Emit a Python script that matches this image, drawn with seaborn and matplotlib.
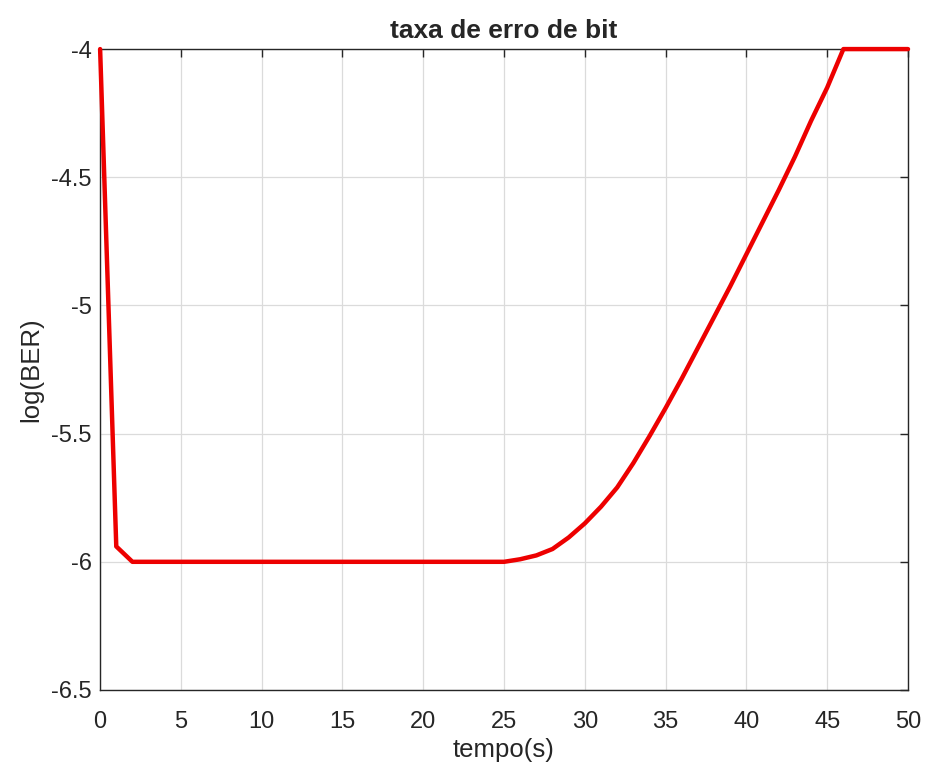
import numpy as np
import pandas as pd
import matplotlib
matplotlib.use("Agg")
import matplotlib.pyplot as plt
import seaborn as sns

# data
tempo = list(range(0, 51))
log_ber = ([-4.00, -5.94] + [-6.00] * 24 +
           [-5.99, -5.975, -5.95, -5.905, -5.85, -5.785, -5.71, -5.615, -5.51, -5.40,
            -5.285, -5.165, -5.045, -4.925, -4.80, -4.675, -4.55, -4.42, -4.28, -4.15,
            -4.00, -4.00, -4.00, -4.00, -4.00])
x_ticks = [0, 5, 10, 15, 20, 25, 30, 35, 40, 45, 50]
y_ticks = [-6.5, -6, -5.5, -5, -4.5, -4]
y_tick_labels = ["-6.5", "-6", "-5.5", "-5", "-4.5", "-4"]

df = pd.DataFrame({"tempo": tempo, "log_ber": log_ber})

sns.set_style("white")
plt.rcParams['font.family'] = ['Liberation Sans', 'DejaVu Sans']

text_col = (0.15, 0.15, 0.15)

fig = plt.figure(figsize=(9.27, 7.67), dpi=100)
ax = fig.add_axes([0.108, 0.1004, 0.8715, 0.8356])

sns.lineplot(data=df, x="tempo", y="log_ber", color=(0.93, 0.0, 0.0),
             linewidth=3.2, ax=ax, clip_on=False, zorder=5)

ax.set_xlim(0, 50)
ax.set_ylim(-6.5, -4)
ax.set_xticks(x_ticks)
ax.set_yticks(y_ticks)
ax.set_yticklabels(y_tick_labels)
ax.grid(True, color=(0.86, 0.86, 0.86), linewidth=0.9)
ax.set_axisbelow(True)

for side in ["top", "right", "bottom", "left"]:
    ax.spines[side].set_visible(True)
    ax.spines[side].set_color(text_col)
    ax.spines[side].set_linewidth(1.0)

ax.tick_params(axis='both', direction='in', length=6, width=1.0,
               top=True, right=True, labelsize=17, colors=text_col)
ax.tick_params(axis='x', pad=15)
ax.tick_params(axis='y', pad=6)

ax.set_xlabel("tempo(s)", fontsize=18.5, color=text_col, labelpad=4)
ax.set_ylabel("log(BER)", fontsize=18.5, color=text_col, labelpad=6)
ax.set_title("taxa de erro de bit", fontsize=19, fontweight='bold', pad=8)

plt.savefig("out.png", dpi=100)
plt.close()
